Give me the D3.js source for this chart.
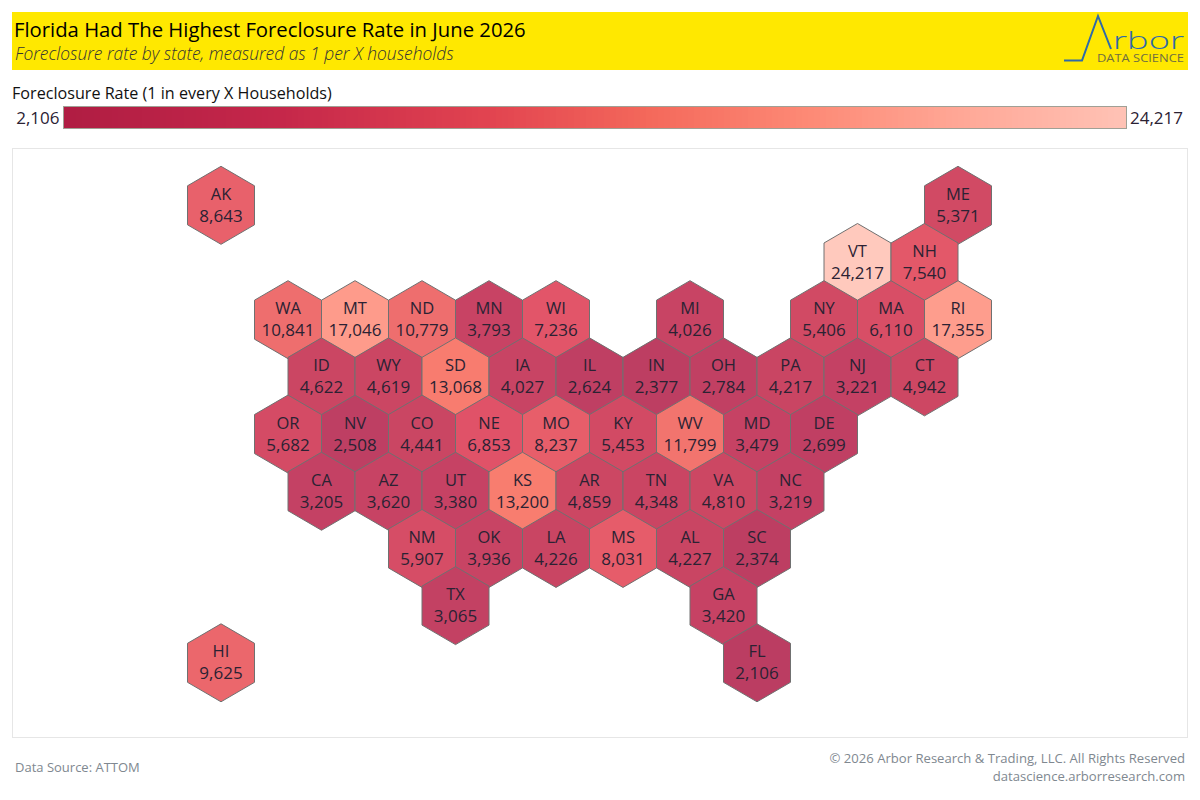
<!DOCTYPE html>
<html><head><meta charset="utf-8">
<script src="https://cdn.jsdelivr.net/npm/d3@7/dist/d3.min.js"></script>
<style>html,body{margin:0;padding:0;background:#fff}svg{display:block}text{font-family:"Open Sans",sans-serif}</style>
</head><body><svg id="c" width="1200" height="800"></svg>
<script>
const states = ["AK","ME","VT","NH","WA","MT","ND","MN","WI","MI","NY","MA","RI","ID","WY","SD","IA","IL","IN","OH","PA","NJ","CT","OR","NV","CO","NE","MO","KY","WV","MD","DE","CA","AZ","UT","KS","AR","TN","VA","NC","NM","OK","LA","MS","AL","SC","TX","GA","HI","FL"];
const values = [8643,5371,24217,7540,10841,17046,10779,3793,7236,4026,5406,6110,17355,4622,4619,13068,4027,2624,2377,2784,4217,3221,4942,5682,2508,4441,6853,8237,5453,11799,3479,2699,3205,3620,3380,13200,4859,4348,4810,3219,5907,3936,4226,8031,4227,2374,3065,3420,9625,2106];
const cols = [0,22,19,21,2,4,6,8,10,14,18,20,22,3,5,7,9,11,13,15,17,19,21,2,4,6,8,10,12,14,16,18,3,5,7,9,11,13,15,17,6,8,10,12,14,16,7,15,0,16];
const rows = [0,0,1,1,2,2,2,2,2,2,2,2,2,3,3,3,3,3,3,3,3,3,3,4,4,4,4,4,4,4,4,4,5,5,5,5,5,5,5,5,6,6,6,6,6,6,7,7,8,8];
const rampStops = [0,0.2,0.4,0.55,0.7,0.85,1];
const rampColors = ["#b01d43","#c5274a","#e24450","#f4695b","#fd8a76","#ffa998","#ffc3b6"];
const hexStops = [0,0.06,0.125,0.215,0.29,0.395,0.5,0.676,1];
const hexColors = ["#bb3d62","#c64264","#cc4763","#e05268","#e8606b","#ee6e6e","#f87d6f","#fe9b8b","#ffc9bd"];
const domainMin = 2106, domainMax = 24217;
const titleText = "Florida Had The Highest Foreclosure Rate in June 2026";
const subtitleText = "Foreclosure rate by state, measured as 1 per X households";
const legendTitle = "Foreclosure Rate (1 in every X Households)";
const sourceText = "Data Source: ATTOM";
const creditLines = ["© 2026 Arbor Research & Trading, LLC. All Rights Reserved","datascience.arborresearch.com"];

const svg = d3.select("#c");
const fmt = d3.format(",");
const ramp = d3.scaleLinear().domain(rampStops).range(rampColors).interpolate(d3.interpolateRgb);
const hexRamp = d3.scaleLinear().domain(hexStops).range(hexColors).interpolate(d3.interpolateRgb);
const color = v => hexRamp((v-domainMin)/(domainMax-domainMin));
const x = d3.scaleLinear().domain([0,22]).range([221,958]);
const y = d3.scaleLinear().domain([0,8]).range([205.3,662.8]);
const dark = "#2b2233";

svg.append("rect").attr("x",12).attr("y",12).attr("width",1176).attr("height",58).attr("fill","#ffe800");
svg.append("text").attr("x",14).attr("y",37).attr("font-size",20.3).attr("font-weight",500).attr("fill","#000").text(titleText);
svg.append("text").attr("x",15).attr("y",60).attr("font-size",17.4).attr("font-weight",300).attr("font-style","italic").attr("fill","#333").text(subtitleText);

// logo
const logo = svg.append("g");
logo.append("path").attr("d","M1064 60.5H1082L1098 16L1111 49").attr("fill","none").attr("stroke","#2f6aa8").attr("stroke-width",2);
logo.append("text").attr("x",1113).attr("y",49).attr("font-size",23).attr("font-weight",300).attr("fill","#2f6aa8").attr("textLength",71).attr("lengthAdjust","spacingAndGlyphs").text("rbor");
logo.append("text").attr("x",1097).attr("y",62).attr("font-size",11.5).attr("font-weight",500).attr("fill","#6f6f40").attr("textLength",87).attr("lengthAdjust","spacingAndGlyphs").text("DATA SCIENCE");

// legend
svg.append("text").attr("x",12).attr("y",99).attr("font-size",16.15).attr("fill","#111").text(legendTitle);
svg.append("text").attr("x",59.5).attr("y",124).attr("text-anchor","end").attr("font-size",17).attr("fill",dark).text(fmt(domainMin));
svg.append("text").attr("x",1130).attr("y",124).attr("font-size",17).attr("fill",dark).text(fmt(domainMax));
const lx = d3.scaleLinear().domain([0,1]).range([64,1126]);
const lsteps = d3.range(0,1,1/177);
svg.append("g").selectAll("rect").data(lsteps).join("rect")
  .attr("x",d=>lx(d)).attr("y",107).attr("width",lx(1/177)-lx(0)+0.5).attr("height",21).attr("fill",d=>ramp(d));
svg.append("rect").attr("x",lx(0)-.5).attr("y",106.5).attr("width",lx(1)-lx(0)+1).attr("height",22).attr("fill","none").attr("stroke","#a0a095");

// panel
svg.append("rect").attr("x",12.5).attr("y",148.5).attr("width",1175).attr("height",589).attr("fill","#fff").attr("stroke","#e6e6e6");

// hexes
const R = 39, hw = 33.5;
const hexPath = `M0,${-R}L${hw},${-R/2}L${hw},${R/2}L0,${R}L${-hw},${R/2}L${-hw},${-R/2}Z`;
const data = states.map((s,i)=>({s,v:values[i],c:cols[i],r:rows[i]}));
const g = svg.append("g").selectAll("g").data(data).join("g").attr("transform",d=>`translate(${x(d.c)},${y(d.r)})`);
g.append("path").attr("d",hexPath).attr("fill",d=>color(d.v)).attr("stroke","#707070").attr("stroke-width",1);
g.append("text").attr("text-anchor","middle").attr("y",-5.5).attr("font-size",16.5).attr("fill",dark).text(d=>d.s);
g.append("text").attr("text-anchor","middle").attr("y",16.5).attr("font-size",17).attr("fill",dark).text(d=>fmt(d.v));

// footer
svg.append("text").attr("x",15).attr("y",772).attr("font-size",13).attr("fill","#808890").text(sourceText);
svg.append("text").attr("x",1185).attr("y",763).attr("text-anchor","end").attr("font-size",13.1).attr("fill","#808890").text(creditLines[0]);
svg.append("text").attr("x",1185).attr("y",781).attr("text-anchor","end").attr("font-size",13.1).attr("fill","#808890").text(creditLines[1]);
</script></body></html>
